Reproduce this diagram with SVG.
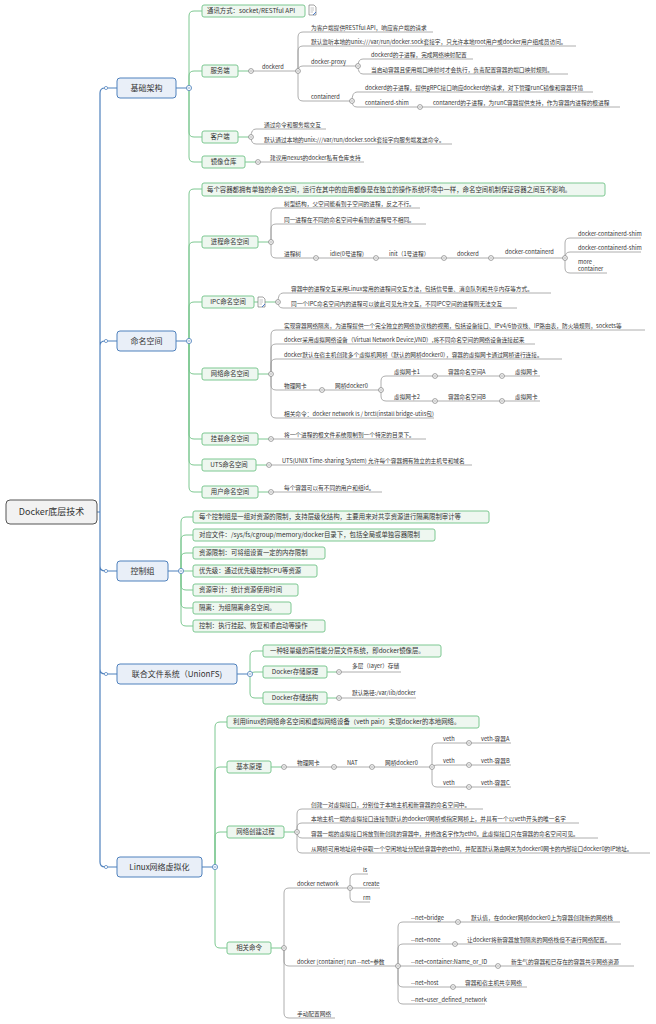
<svg xmlns="http://www.w3.org/2000/svg" width="656" height="1024" viewBox="0 0 656 1024">
<style>
text{font-family:"Noto Sans CJK SC","Liberation Sans",sans-serif;fill:#333}
.t{font-size:5.7px}
.g2{font-size:6.4px}
.m{font-size:8px}
.b{fill:none;stroke:#4f81bd;stroke-width:1.2}
.g{fill:none;stroke:#7dc891;stroke-width:1}
.l{fill:none;stroke:#999;stroke-width:0.8}
.bx{fill:#e9eff8;stroke:#4f81bd;stroke-width:1}
.gx{fill:#eef7f0;stroke:#7dc891;stroke-width:1}
</style>
<defs>
<g id="c"><circle r="2.4" fill="#fff" stroke="#777" stroke-width="0.7"/><path d="M-1.3,0H1.3" stroke="#777" stroke-width="0.6"/></g>
<g id="cb"><circle r="2.6" fill="#fff" stroke="#4f81bd" stroke-width="0.8"/><path d="M-1.4,0H1.4" stroke="#4f81bd" stroke-width="0.7"/></g>
</defs>
<g id="connectors">
<path class="b" d="M97,512H100V93Q100,88 105,88H117M100,512V346Q100,341 105,341H117M100,512V566Q100,571 105,571H117M100,512V669Q100,674 105,674H117M100,512V862Q100,867 105,867H117"/>
<path class="b" d="M176,88H189M176,341H189M168,571H181M237,674H250M202,867H215"/>
<path class="g" d="M189,88V16Q189,11 194,11H202M189,88V76Q189,71 194,71H202M189,88V132Q189,137 194,137H202M189,88V157Q189,162 194,162H202"/>
<path class="g" d="M189,341V194Q189,189 194,189H202M189,341V247Q189,242 194,242H202M189,341V307Q189,302 194,302H202M189,341V369Q189,374 194,374H202M189,341V434Q189,439 194,439H202M189,341V460Q189,465 194,465H202M189,341V487Q189,492 194,492H202"/>
<path class="g" d="M181,571V522Q181,517 186,517H193M181,571V540Q181,535 186,535H193M181,571V558Q181,553 186,553H193M181,571H193M181,571V585Q181,590 186,590H193M181,571V603Q181,608 186,608H193M181,571V621Q181,626 186,626H193"/>
<path class="g" d="M250,674V656Q250,651 255,651H263M250,674Q250,672 255,672H263M250,674V693Q250,698 255,698H263"/>
<path class="g" d="M215,867V727Q215,722 220,722H227M215,867V772Q215,767 220,767H227M215,867V837Q215,832 220,832H227M215,867V943Q215,948 220,948H227"/>
<path class="g" d="M238,71H251M238,137H251M245,162H258M258,242H271M254,302H278M258,374H271M258,439H271M256,465H269M258,492H271M327,672H339M327,698H339M271,767H284M284,832H297M271,948H284"/>
<path class="l" d="M251,71H298M298,71V37Q298,32 303,32H433M298,71V51Q298,46 303,46H576M298,71Q298,66 303,66H358M298,71V96Q298,101 303,101H352"/>
<path class="l" d="M358,66Q358,59 363,59H473M358,66Q358,74 363,74H568M352,101Q352,92 357,92H593M352,101Q352,107 357,107H620"/>
<path class="l" d="M251,137Q251,129 256,129H326M251,137Q251,144 256,144H452M258,162H364"/>
<path class="l" d="M271,242V213Q271,208 276,208H420M271,242V229Q271,224 276,224H426M271,242V253Q271,258 276,258H565M565,258V243Q565,238 570,238H641M565,258Q565,252 570,252H641M565,258V268Q565,273 570,273H607"/>
<path class="l" d="M278,302Q278,293 283,293H551M278,302Q278,308 283,308H517"/>
<path class="l" d="M271,374V335Q271,330 276,330H645M271,374V349Q271,344 276,344H535M271,374V364Q271,359 276,359H562M271,374V385Q271,390 276,390H381M271,374V413Q271,418 276,418H434M381,390V381Q381,376 386,376H540M381,390V396Q381,401 386,401H540"/>
<path class="l" d="M271,439H426M269,465H472M271,492H382M339,672H401M339,698H416"/>
<path class="l" d="M284,767H432M432,767V748Q432,743 437,743H511M432,767Q432,765 437,765H511M432,767V782Q432,787 437,787H511"/>
<path class="l" d="M297,832V814Q297,809 302,809H483M297,832V828Q297,823 302,823H579M297,832Q297,838 302,838H598M297,832V848Q297,853 302,853H650"/>
<path class="l" d="M284,948V893Q284,888 289,888H350M284,948V961Q284,966 289,966H398M284,948V1013Q284,1018 289,1018H335M350,888V879Q350,874 355,874H368M350,888H380M350,888V897Q350,902 355,902H370"/>
<path class="l" d="M398,966V927Q398,922 403,922H620M398,966V949Q398,944 403,944H621M398,966H634M398,966V982Q398,987 403,987H527M398,966V999Q398,1004 403,1004H485"/>
</g>
<g id="markers">
<circle cx="106" cy="88" r="1.6" fill="#fff" stroke="#4f81bd" stroke-width="0.7"/>
<circle cx="106" cy="341" r="1.6" fill="#fff" stroke="#4f81bd" stroke-width="0.7"/>
<circle cx="106" cy="571" r="1.6" fill="#fff" stroke="#4f81bd" stroke-width="0.7"/>
<circle cx="106" cy="674" r="1.6" fill="#fff" stroke="#4f81bd" stroke-width="0.7"/>
<circle cx="106" cy="867" r="1.6" fill="#fff" stroke="#4f81bd" stroke-width="0.7"/>
<use href="#cb" x="189" y="88"/><use href="#cb" x="189" y="341"/><use href="#cb" x="181" y="571"/><use href="#cb" x="250" y="674"/><use href="#cb" x="215" y="867"/>
<use href="#c" x="251" y="71"/><use href="#c" x="298" y="71"/><use href="#c" x="358" y="66"/><use href="#c" x="352" y="101"/><use href="#c" x="420" y="107"/>
<use href="#c" x="251" y="137"/><use href="#c" x="258" y="162"/>
<use href="#c" x="271" y="242"/><use href="#c" x="316" y="258"/><use href="#c" x="376" y="258"/><use href="#c" x="444" y="258"/><use href="#c" x="491" y="258"/><use href="#c" x="565" y="258"/>
<use href="#c" x="278" y="302"/>
<use href="#c" x="271" y="374"/><use href="#c" x="322" y="390"/><use href="#c" x="381" y="390"/><use href="#c" x="435" y="376"/><use href="#c" x="502" y="376"/><use href="#c" x="435" y="401"/><use href="#c" x="502" y="401"/>
<use href="#c" x="271" y="439"/><use href="#c" x="269" y="465"/><use href="#c" x="271" y="492"/>
<use href="#c" x="339" y="672"/><use href="#c" x="339" y="698"/>
<use href="#c" x="284" y="767"/><use href="#c" x="334" y="767"/><use href="#c" x="372" y="767"/><use href="#c" x="432" y="767"/><use href="#c" x="469" y="743"/><use href="#c" x="469" y="765"/><use href="#c" x="469" y="787"/>
<use href="#c" x="297" y="832"/><use href="#c" x="284" y="948"/><use href="#c" x="350" y="888"/><use href="#c" x="398" y="966"/>
<use href="#c" x="458" y="922"/><use href="#c" x="455" y="944"/><use href="#c" x="498" y="966"/><use href="#c" x="453" y="987"/>
</g>
<g id="root"><rect x="6" y="500" width="91" height="24" rx="4" fill="#f2f2f2" stroke="#555" stroke-width="1"/><text x="51.5" y="515" font-size="9" text-anchor="middle">Docker底层技术</text></g>
<g id="n-jcjg"><rect class="bx" x="117" y="78" width="59" height="20" rx="3"/><text class="m" x="146.5" y="91" text-anchor="middle">基础架构</text></g>
<g id="n-mmkj"><rect class="bx" x="117" y="331" width="59" height="20" rx="3"/><text class="m" x="146.5" y="344" text-anchor="middle">命名空间</text></g>
<g id="n-kzz"><rect class="bx" x="117" y="561" width="51" height="20" rx="3"/><text class="m" x="142.5" y="574" text-anchor="middle">控制组</text></g>
<g id="n-unionfs"><rect class="bx" x="117" y="664" width="120" height="20" rx="3"/><text class="m" x="177" y="677" text-anchor="middle">联合文件系统（UnionFS)</text></g>
<g id="n-linux"><rect class="bx" x="117" y="857" width="85" height="20" rx="3"/><text class="m" x="159.5" y="870" text-anchor="middle">Linux网络虚拟化</text></g>
<g id="n-txfs"><rect class="gx" x="202" y="5" width="103" height="12" rx="2"/><text class="g2" x="207" y="13.3">通讯方式：socket/RESTful API</text>
<g transform="translate(309,5)"><path d="M0,0H5L7,2V10H0Z" fill="#fff" stroke="#666" stroke-width="0.6"/><path d="M1.5,3H5M1.5,5H5M1.5,7H4" stroke="#888" stroke-width="0.5"/><path d="M4,10L7,7" stroke="#3a6fc4" stroke-width="0.9"/></g></g>
<g id="n-fwd"><rect class="gx" x="202" y="65" width="36" height="12" rx="2"/><text class="g2" x="220" y="73.3" text-anchor="middle">服务端</text>
<text class="t" x="262" y="69">dockerd</text>
<text class="t" x="311" y="30">为客户端提供RESTful API，响应客户端的请求</text>
<text class="t" x="311" y="44">默认监听本地的unix:///var/run/docker.sock套接字，只允许本地root用户或docker用户组成员访问。</text>
<text class="t" x="311" y="64">docker-proxy</text>
<text class="t" x="371" y="57">dockerd的子进程，完成网络映射配置</text>
<text class="t" x="371" y="72">当启动容器且使用端口映射时才会执行，负责配置容器的端口映射规则。</text>
<text class="t" x="311" y="99">containerd</text>
<text class="t" x="365" y="90">dockerd的子进程，提供gRPC接口响应dockerd的请求，对下管理runC镜像和容器环境</text>
<text class="t" x="365" y="105">containerd-shim</text>
<text class="t" x="433" y="105">contanerd的子进程，为runC容器提供支持，作为容器内进程的根进程</text></g>
<g id="n-khd"><rect class="gx" x="202" y="131" width="36" height="12" rx="2"/><text class="g2" x="220" y="139.3" text-anchor="middle">客户端</text>
<text class="t" x="264" y="127">通过命令和服务端交互</text>
<text class="t" x="264" y="142">默认通过本地的unix:///var/run/docker.sock套接字向服务端发送命令。</text></g>
<g id="n-jxck"><rect class="gx" x="202" y="156" width="43" height="12" rx="2"/><text class="g2" x="223.5" y="164.3" text-anchor="middle">镜像仓库</text>
<text class="t" x="270" y="160">建议用nexus的docker私有仓库支持</text></g>
<g id="n-mm0"><rect class="gx" x="202" y="183" width="403" height="13" rx="2"/><text class="g2" x="207" y="191.8">每个容器都拥有单独的命名空间，运行在其中的应用都像是在独立的操作系统环境中一样，命名空间机制保证容器之间互不影响。</text></g>
<g id="n-jcmm"><rect class="gx" x="202" y="236" width="56" height="12" rx="2"/><text class="g2" x="230" y="244.3" text-anchor="middle">进程命名空间</text>
<text class="t" x="284" y="206">树型结构，父空间能看到子空间的进程，反之不行。</text>
<text class="t" x="284" y="222">同一进程在不同的命名空间中看到的进程号不相同。</text>
<text class="t" x="284" y="256">进程树</text><text class="t" x="330" y="256">idle(0号进程)</text><text class="t" x="389" y="256">init（1号进程）</text><text class="t" x="457" y="256">dockerd</text><text class="t" x="505" y="254">docker-containerd</text>
<text class="t" x="578" y="236">docker-containerd-shim</text><text class="t" x="578" y="250">docker-containerd-shim</text><text class="t" x="578" y="264">more</text><text class="t" x="578" y="271">container</text></g>
<g id="n-ipc"><rect class="gx" x="202" y="296" width="52" height="12" rx="2"/><text class="g2" x="228" y="304.3" text-anchor="middle">IPC命名空间</text>
<g transform="translate(258,297)"><path d="M0,0H5L7,2V10H0Z" fill="#fff" stroke="#666" stroke-width="0.6"/><path d="M1.5,3H5M1.5,5H5M1.5,7H4" stroke="#888" stroke-width="0.5"/><path d="M4,10L7,7" stroke="#3a6fc4" stroke-width="0.9"/></g>
<text class="t" x="291" y="291">容器中的进程交互采用Linux常用的进程间交互方法，包括信号量、消息队列和共享内存等方式。</text>
<text class="t" x="291" y="306">同一个IPC命名空间内的进程可以彼此可见允许交互，不同IPC空间的进程则无法交互</text></g>
<g id="n-wlmm"><rect class="gx" x="202" y="368" width="56" height="12" rx="2"/><text class="g2" x="230" y="376.3" text-anchor="middle">网络命名空间</text>
<text class="t" x="284" y="328">实现容器网络隔离，为进程提供一个完全独立的网络协议栈的视图，包括设备接口、IPv4/6协议栈、IP路由表，防火墙规则，sockets等</text>
<text class="t" x="284" y="342">docker采用虚拟网络设备（Virtual Network Device,VND）,将不同命名空间的网络设备连接起来</text>
<text class="t" x="284" y="357">docker默认在宿主机创建多个虚拟机网桥（默认的网桥docker0），容器的虚拟网卡通过网桥进行连接。</text>
<text class="t" x="284" y="388">物理网卡</text><text class="t" x="335" y="388">网桥docker0</text>
<text class="t" x="394" y="374">虚拟网卡1</text><text class="t" x="448" y="374">容器命名空间A</text><text class="t" x="515" y="374">虚拟网卡</text>
<text class="t" x="394" y="399">虚拟网卡2</text><text class="t" x="448" y="399">容器命名空间B</text><text class="t" x="515" y="399">虚拟网卡</text>
<text class="t" x="284" y="416">相关命令：docker network ls / brctl(install bridge-utils包)</text></g>
<g id="n-gzmm"><rect class="gx" x="202" y="433" width="56" height="12" rx="2"/><text class="g2" x="230" y="441.3" text-anchor="middle">挂载命名空间</text>
<text class="t" x="284" y="437">将一个进程的根文件系统限制到一个特定的目录下。</text></g>
<g id="n-uts"><rect class="gx" x="202" y="459" width="54" height="12" rx="2"/><text class="g2" x="229" y="467.3" text-anchor="middle">UTS命名空间</text>
<text class="t" x="282" y="463">UTS(UNIX Time-sharing System) 允许每个容器拥有独立的主机号和域名</text></g>
<g id="n-yhmm"><rect class="gx" x="202" y="486" width="56" height="12" rx="2"/><text class="g2" x="230" y="494.3" text-anchor="middle">用户命名空间</text>
<text class="t" x="284" y="490">每个容器可以有不同的用户和组id。</text></g>
<g id="n-k1"><rect class="gx" x="193" y="511" width="296" height="12" rx="2"/><text class="g2" x="199" y="519.3">每个控制组是一组对资源的限制，支持层级化结构，主要用来对共享资源进行隔离限制审计等</text></g>
<g id="n-k2"><rect class="gx" x="193" y="529" width="242" height="12" rx="2"/><text class="g2" x="199" y="537.3">对应文件：/sys/fs/cgroup/memory/docker目录下，包括全局或单独容器限制</text></g>
<g id="n-k3"><rect class="gx" x="193" y="547" width="132" height="12" rx="2"/><text class="g2" x="199" y="555.3">资源限制：可将组设置一定的内存限制</text></g>
<g id="n-k4"><rect class="gx" x="193" y="565" width="124" height="12" rx="2"/><text class="g2" x="199" y="573.3">优先级：通过优先级控制CPU等资源</text></g>
<g id="n-k5"><rect class="gx" x="193" y="584" width="105" height="12" rx="2"/><text class="g2" x="199" y="592.3">资源审计：统计资源使用时间</text></g>
<g id="n-k6"><rect class="gx" x="193" y="602" width="98" height="12" rx="2"/><text class="g2" x="199" y="610.3">隔离：为组隔离命名空间。</text></g>
<g id="n-k7"><rect class="gx" x="193" y="620" width="132" height="12" rx="2"/><text class="g2" x="199" y="628.3">控制：执行挂起、恢复和重启动等操作</text></g>
<g id="n-u1"><rect class="gx" x="263" y="645" width="178" height="12" rx="2"/><text class="g2" x="270" y="653.3">一种轻量级的高性能分层文件系统，即docker镜像层。</text></g>
<g id="n-u2"><rect class="gx" x="263" y="666" width="64" height="12" rx="2"/><text class="g2" x="295" y="674.3" text-anchor="middle">Docker存储原理</text>
<text class="t" x="352" y="668">多层（layer）存储</text></g>
<g id="n-u3"><rect class="gx" x="263" y="692" width="64" height="12" rx="2"/><text class="g2" x="295" y="700.3" text-anchor="middle">Docker存储结构</text>
<text class="t" x="352" y="695">默认路径:/var/lib/docker</text></g>
<g id="n-l1"><rect class="gx" x="227" y="716" width="252" height="12" rx="2"/><text class="g2" x="233" y="724.3">利用linux的网络命名空间和虚拟网络设备（veth pair）实现docker的本地网络。</text></g>
<g id="n-l2"><rect class="gx" x="227" y="761" width="44" height="12" rx="2"/><text class="g2" x="249" y="769.3" text-anchor="middle">基本原理</text>
<text class="t" x="297" y="765">物理网卡</text><text class="t" x="347" y="765">NAT</text><text class="t" x="385" y="765">网桥docker0</text>
<text class="t" x="443" y="741">veth</text><text class="t" x="443" y="763">veth</text><text class="t" x="443" y="785">veth</text>
<text class="t" x="481" y="741">veth-容器A</text><text class="t" x="481" y="763">veth-容器B</text><text class="t" x="481" y="785">veth-容器C</text></g>
<g id="n-l3"><rect class="gx" x="227" y="826" width="57" height="12" rx="2"/><text class="g2" x="255.5" y="834.3" text-anchor="middle">网络创建过程</text>
<text class="t" x="311" y="807">创建一对虚拟接口，分别位于本地主机和新容器的命名空间中。</text>
<text class="t" x="311" y="821">本地主机一端的虚拟接口连接到默认的docker0网桥或指定网桥上，并具有一个以veth开头的唯一名字</text>
<text class="t" x="311" y="836">容器一端的虚拟接口将放到新创建的容器中，并修改名字作为eth0。此虚拟接口只在容器的命名空间可见。</text>
<text class="t" x="311" y="851">从网桥可用地址段中获取一个空闲地址分配给容器中的eth0，并配置默认路由网关为docker0网卡的内部接口docker0的IP地址。</text></g>
<g id="n-l4"><rect class="gx" x="227" y="942" width="44" height="12" rx="2"/><text class="g2" x="249" y="950.3" text-anchor="middle">相关命令</text>
<text class="t" x="297" y="886">docker network</text>
<text class="t" x="363" y="872">ls</text><text class="t" x="363" y="886">create</text><text class="t" x="363" y="900">rm</text>
<text class="t" x="297" y="964">docker [container] run --net=参数</text>
<text class="t" x="411" y="920">--net=bridge</text><text class="t" x="471" y="920">默认值，在docker网桥docker0上为容器创建新的网络栈</text>
<text class="t" x="411" y="942">--net=none</text><text class="t" x="467" y="942">让docker将新容器放到隔离的网络栈但不进行网络配置。</text>
<text class="t" x="411" y="964">--net=container:Name_or_ID</text><text class="t" x="511" y="964">新生气的容器和已存在的容器共享网络资源</text>
<text class="t" x="411" y="985">--net=host</text><text class="t" x="465" y="985">容器和宿主机共享网络</text>
<text class="t" x="411" y="1002">--net=user_defined_network</text>
<text class="t" x="297" y="1016">手动配置网络</text></g>
</svg>
